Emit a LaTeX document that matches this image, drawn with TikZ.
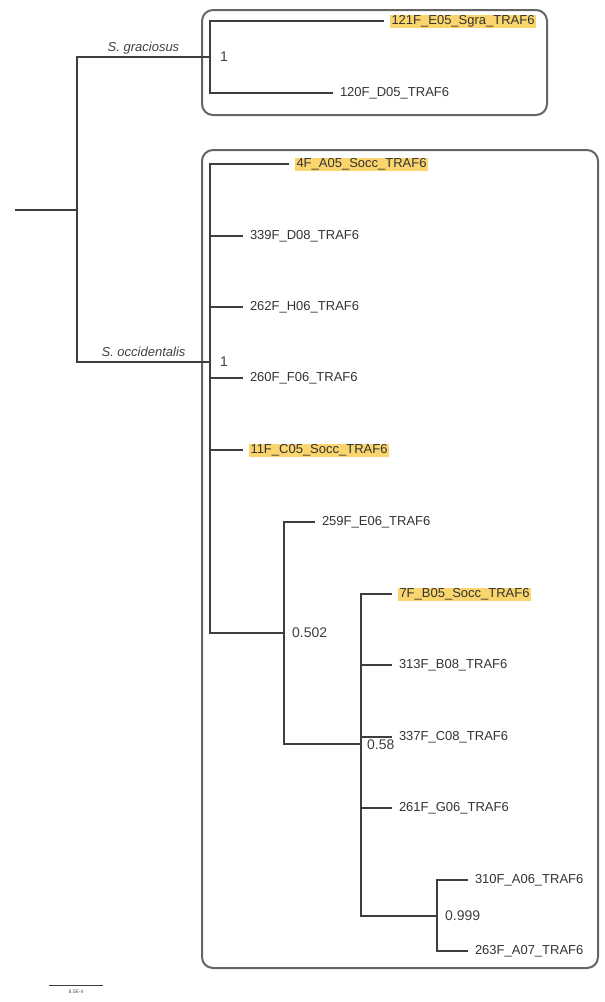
\documentclass[tikz,border=0pt]{standalone}
\usepackage{fontspec}
\setmainfont{Liberation Sans}
\usetikzlibrary{positioning}
\definecolor{hilite}{RGB}{250,212,108}
\definecolor{branchgray}{RGB}{62,62,62}

\begin{document}
\begin{tikzpicture}[x=1pt, y=-1pt,
  branch/.style={draw=branchgray, line width=1.4pt},
  cladebox/.style={draw=branchgray!80, line width=2pt, rounded corners=11pt},
  taxon/.style={anchor=west, font=\fontsize{13}{15}\selectfont, text=black!80,
    text height=9.5pt, text depth=2.5pt, inner xsep=7pt, inner ysep=0.5pt, outer sep=0pt},
  seqhl/.style={taxon, fill=hilite, inner xsep=1.5pt, outer xsep=6pt},
  support/.style={anchor=west, font=\fontsize{14}{16}\selectfont, text=black!75, inner sep=0pt},
  cladename/.style={anchor=base, font=\itshape\fontsize{13}{15}\selectfont, text=black!75, inner sep=0pt}]
  \useasboundingbox (0,0) rectangle (605,1002);

  % clade boxes
  \draw[cladebox] (202,10) rectangle (547,115);
  \draw[cladebox] (202,150) rectangle (598,968);

  % internal nodes
  \coordinate (base) at (15,210);
  \coordinate (root) at (77,210);
  \coordinate (grac) at (210,57);
  \coordinate (occ) at (210,362);
  \coordinate (n502) at (284,633);
  \coordinate (n58) at (361,744);
  \coordinate (n999) at (437,916);

  % tips
  \foreach \n/\x/\y/\t in {t120/333/93/120F\_D05\_TRAF6, t339/243/236/339F\_D08\_TRAF6,
      t262/243/307/262F\_H06\_TRAF6, t260/243/378/260F\_F06\_TRAF6, t259/315/522/259F\_E06\_TRAF6,
      t313/392/665/313F\_B08\_TRAF6, t337/392/737/337F\_C08\_TRAF6, t261/392/808/261F\_G06\_TRAF6,
      t310/468/880/310F\_A06\_TRAF6, t263/468/951/263F\_A07\_TRAF6}
    \node[taxon] (\n) at (\x,\y) {\t};
  \foreach \n/\x/\y/\t in {t121/384/21/121F\_E05\_Sgra\_TRAF6, t4/289/164/4F\_A05\_Socc\_TRAF6,
      t11/243/450/11F\_C05\_Socc\_TRAF6, t7/392/594/7F\_B05\_Socc\_TRAF6}
    \node[seqhl] (\n) at (\x,\y) {\t};

  % branches
  \draw[branch] (base) -- (root);
  \foreach \p/\c in {root/grac, root/occ, grac/t121, grac/t120,
      occ/t4, occ/t339, occ/t262, occ/t260, occ/t11, occ/n502,
      n502/t259, n502/n58, n58/t7, n58/t313, n58/t337, n58/t261, n58/n999,
      n999/t310, n999/t263}
    \draw[branch] (\p) |- (\c);

  % support values
  \node[support, right=10pt of grac] (sgrac) {1};
  \node[support, right=10pt of occ] (socc) {1};
  \node[support, right=8pt of n502] (s502) {0.502};
  \node[support, right=6pt of n58, yshift=-1pt] (s58) {0.58};
  \node[support, right=8pt of n999] (s999) {0.999};

  % clade names
  \node[cladename] (lgrac) at (143.5,51.5) {S. graciosus};
  \node[cladename] (locc) at (143.5,356.5) {S. occidentalis};

  % scale bar
  \coordinate (sbl) at (49,985);
  \coordinate (sbr) at (103,985);
  \draw[branchgray, line width=1pt] (sbl) -- (sbr)
    node[midway, below=4pt, font=\fontsize{5}{6}\selectfont, text=black!70, inner sep=0pt] (sblabel) {8.0E-4};
\end{tikzpicture}
\end{document}
